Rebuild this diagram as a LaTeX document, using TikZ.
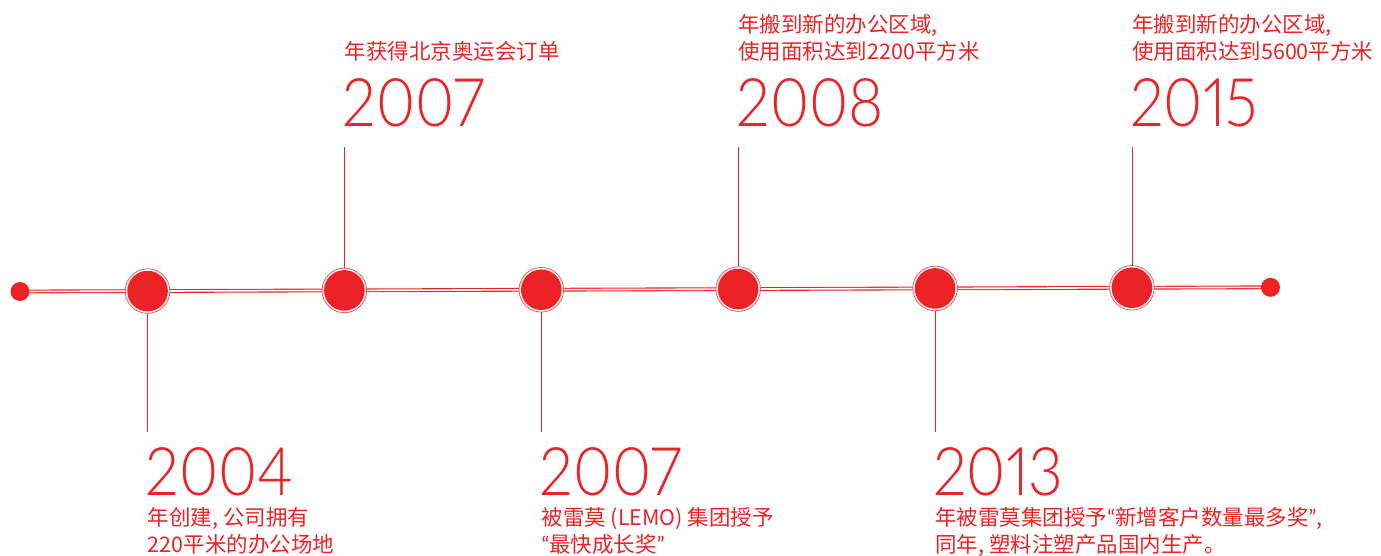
\documentclass[tikz,border=0pt]{standalone}
\usepackage{fontspec}
\usetikzlibrary{calc}
\newfontfamily\cjk{Noto Sans CJK SC}
\newfontfamily\latin{Lato}
\IfFontExistsTF{Lato Light}{\newfontfamily\yearfont[Numbers=Proportional, FakeStretch=0.9]{Lato Light}}{\newfontfamily\yearfont[Numbers=Proportional]{Lato}}
\definecolor{TLred}{RGB}{236,34,39}
\tikzset{
	TLline/.style={draw=TLred, line width=1.1pt, double=white, double distance=1.6pt},
	TLstem/.style={draw=TLred, line width=0.9pt},
	TLdot/.style={circle, fill=TLred, inner sep=0pt, minimum size=19pt},
	TLring/.style={circle, draw=TLred!75, fill=white, line width=0.8pt, inner sep=0pt, minimum size=44.6pt},
	TLyear/.style={text=TLred, inner sep=0pt, anchor=base west, font=\yearfont\fontsize{67}{67}\selectfont},
	TLnote/.style={text=TLred, inner sep=0pt, anchor=base west, font=\cjk\fontsize{21.5}{27.5}\selectfont}
}
\newcommand{\TLlq}{{\latin “}}
\newcommand{\TLrq}{{\latin ”}}

\begin{document}
\begin{tikzpicture}[x=1pt, y=-1pt]
	\useasboundingbox (0,0) rectangle (1381,556);
	\def\stemtop{147} % upper end of the stems
	\def\stembot{432} % lower end of the stems

	% Time line
	\coordinate (p0) at (20,291.5);
	\coordinate (p7) at (1270.5,287.3);
	\draw[TLline] (p0) -- (p7);
	\node[TLdot] (e0) at (p0) {};
	\node[TLdot] (e7) at (p7) {};

	% Milestones
	\foreach \i/\t in {1/0.102, 2/0.2594, 3/0.4169, 4/0.5743, 5/0.7318, 6/0.8892} {
		\node[TLring] (r\i) at ($(p0)!\t!(p7)$) {};
		\node[TLdot, minimum size=40.6pt] (c\i) at (r\i) {};
	}

	% Stems
	\foreach \i in {2,4,6} {
		\coordinate (s\i) at (r\i.north |- 0,\stemtop);
		\draw[TLstem] (r\i.north) -- (s\i);
	}
	\foreach \i in {1,3,5} {
		\coordinate (s\i) at (r\i.south |- 0,\stembot);
		\draw[TLstem] (r\i.south) -- (s\i);
	}

	% Upper labels
	\node[TLyear] (y2) at ($(s2)+(-2,-20)$) {2007};
	\node[TLnote] (n2) at ($(s2)+(0,-87)$) {年获得北京奥运会订单};
	\node[TLyear] (y4) at ($(s4)+(-2,-20)$) {2008};
	\node[TLnote] (n4a) at ($(s4)+(0,-114.5)$) {年搬到新的办公区域,};
	\node[TLnote] (n4b) at ($(s4)+(0,-87)$) {使用面积达到2200平方米};
	\node[TLyear] (y6) at ($(s6)+(-2,-20)$) {2015};
	\node[TLnote] (n6a) at ($(s6)+(0,-114.5)$) {年搬到新的办公区域,};
	\node[TLnote] (n6b) at ($(s6)+(0,-87)$) {使用面积达到5600平方米};

	% Lower labels
	\node[TLyear] (y1) at ($(s1)+(-2,63.5)$) {2004};
	\node[TLnote] (n1a) at ($(s1)+(0,93)$) {年创建, 公司拥有};
	\node[TLnote] (n1b) at ($(s1)+(0,120)$) {220平米的办公场地};
	\node[TLyear] (y3) at ($(s3)+(-2,63.5)$) {2007};
	\node[TLnote] (n3a) at ($(s3)+(0,93)$) {被雷莫 (LEMO) 集团授予};
	\node[TLnote] (n3b) at ($(s3)+(0,120)$) {\TLlq 最快成长奖\TLrq};
	\node[TLyear] (y5) at ($(s5)+(-2,63.5)$) {2013};
	\node[TLnote] (n5a) at ($(s5)+(0,93)$) {年被雷莫集团授予\TLlq 新增客户数量最多奖\TLrq,};
	\node[TLnote] (n5b) at ($(s5)+(0,120)$) {同年, 塑料注塑产品国内生产。};
\end{tikzpicture}
\end{document}
